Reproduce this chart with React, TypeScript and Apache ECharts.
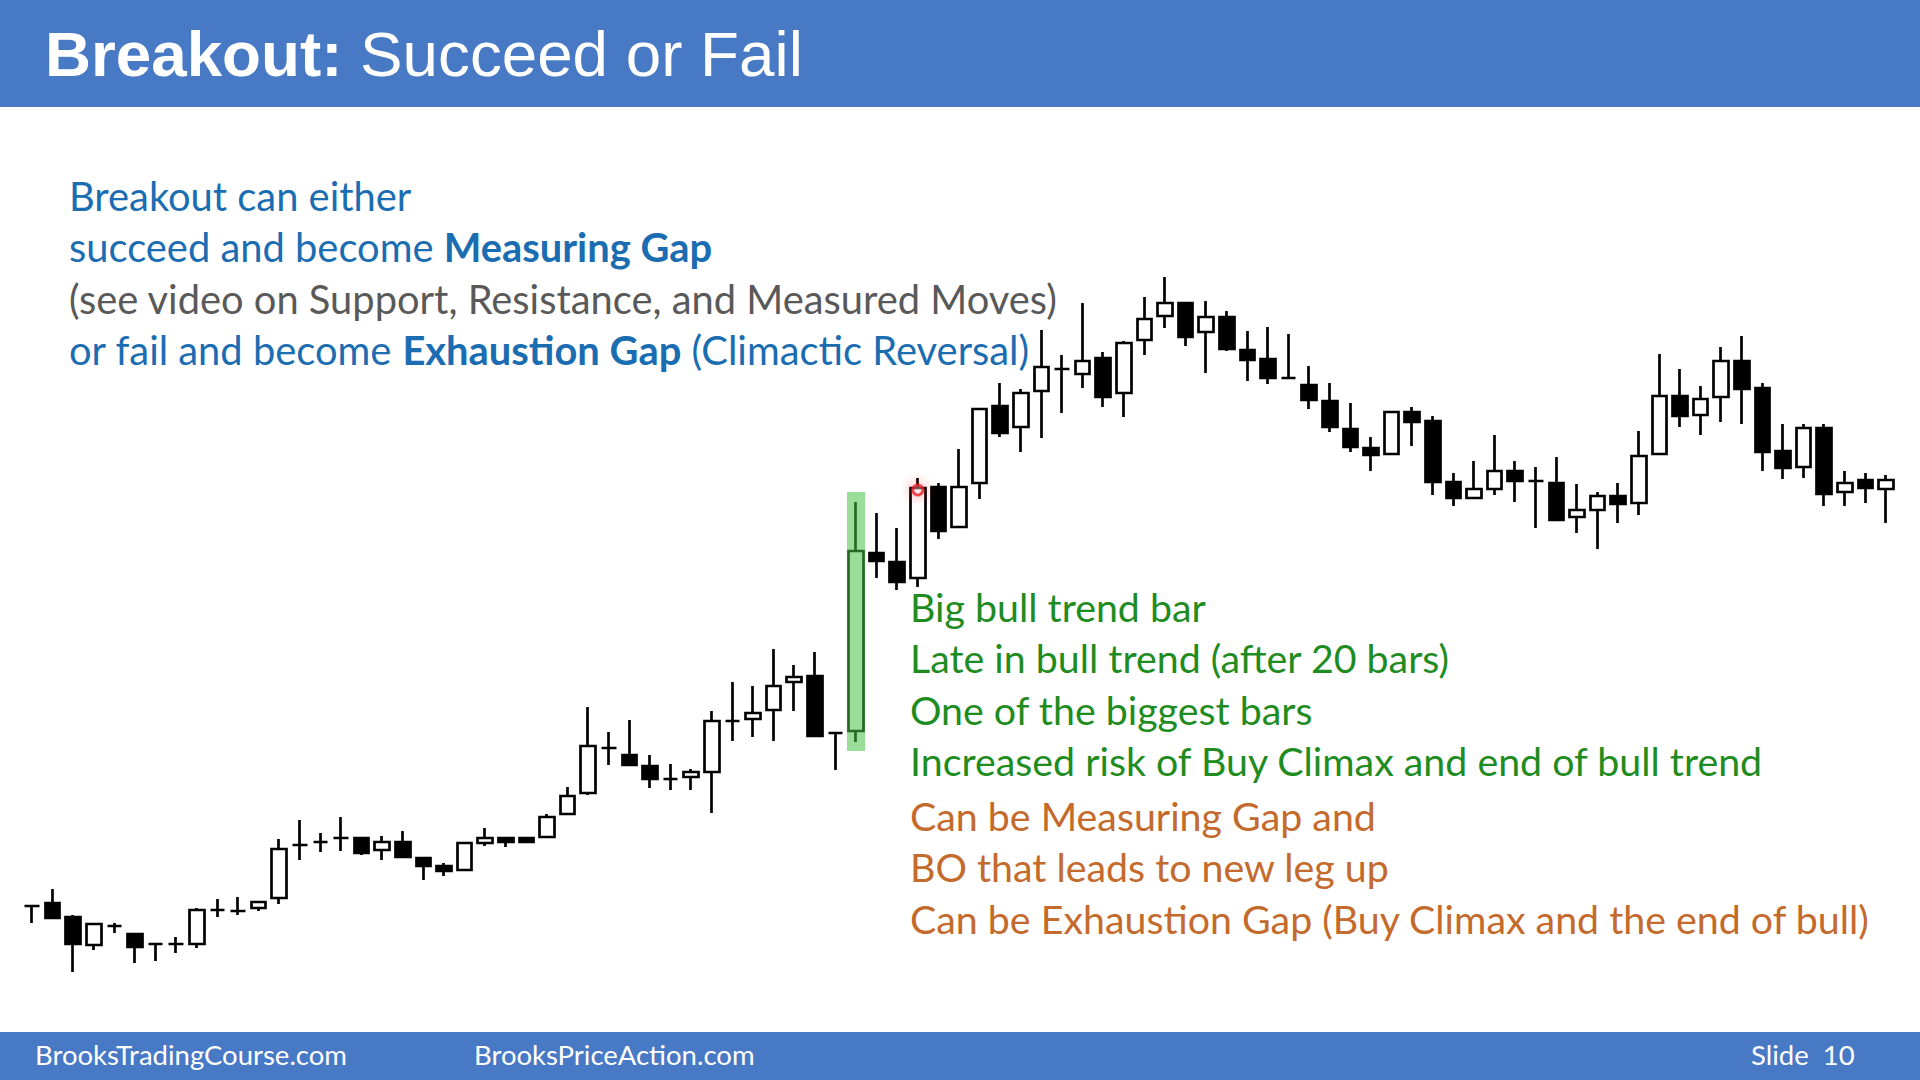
import React, { useEffect, useRef } from "react";
import * as echarts from "echarts";

// ---- DATA (price units, bar by bar) ----
const barNumbers: string[] = Array.from({ length: 91 }, (_, i) => String(i + 1));

const opens = [94,97,83,55,74,66,56,56,56,90, 89,92,102,155,158,162,162,150,158,142, 134,130,157,162,162,163,186,207,252,245, 234,221,223,228,279,281,290,318,324,267, 269,447,438,422,513,473,517,594,573,609, 631,626,642,607,660,684,697,668,683,650, 641,622,615,599,571,552,546,588,579,518, 502,511,529,519,517,483,490,504,497,546, 604,585,603,639,612,549,533,572,508,520, 511];
const closes = [94,82,56,76,74,53,56,56,90,90, 89,98,151,155,158,162,147,158,143,134, 129,157,162,158,158,183,204,254,252,235, 221,221,228,279,279,287,314,323,264,267, 449,439,418,512,469,513,591,567,607,633, 631,639,603,657,681,697,663,683,651,640, 622,622,600,573,553,545,588,578,518,502, 511,529,519,519,480,490,504,496,544,604, 584,601,639,611,548,532,572,506,517,512, 520];
const lows = [77,82,28,50,67,37,39,47,52,83, 85,89,96,140,148,149,145,140,143,120, 124,130,154,153,157,163,186,205,235,235, 212,210,210,187,259,263,259,289,263,230, 258,422,410,413,461,473,501,563,548,562, 587,612,593,583,645,672,654,627,649,619, 616,622,591,568,548,529,546,554,505,494, 501,505,498,472,480,467,451,477,485,546, 573,565,578,576,529,521,522,494,494,497, 477];
const highs = [94,111,85,77,77,66,56,63,92,101, 103,98,161,180,167,183,163,164,169,142, 137,157,172,162,162,186,213,293,268,280, 245,236,231,289,318,314,351,335,348,267, 498,487,472,522,517,551,591,617,611,670, 645,697,648,659,703,723,697,699,689,669, 673,666,634,617,597,563,588,593,584,527, 539,565,539,533,543,516,508,517,569,646, 631,614,653,664,617,576,576,576,529,527, 525];

// highlighted breakout bar (index in barNumbers) and its highlight range
const highlightBarIndex = 40;
const highlightLow = 249;
const highlightHigh = 508;

// cursor mark
const cursorBarIndex = 43;
const cursorValue = 510;

// ---- TEXT ----
const titleBold = "Breakout:";
const titleRegular = " Succeed or Fail";
const footerLeft = "BrooksTradingCourse.com";
const footerMid = "BrooksPriceAction.com";
const footerRight = "Slide  10";

const BLUE = "#1b6db2";
const GRAY = "#595959";
const GREEN = "#1f8c1f";
const ORANGE = "#c46a2c";
const HEADER = "#4779c5";

type Seg = { t: string; b?: boolean; c: string };
const leftLines: Seg[][] = [
  [{ t: "Breakout can either", c: BLUE }],
  [{ t: "succeed and become ", c: BLUE }, { t: "Measuring Gap", b: true, c: BLUE }],
  [{ t: "(see video on Support, Resistance, and Measured Moves)", c: GRAY }],
  [
    { t: "or fail and become ", c: BLUE },
    { t: "Exhaustion Gap", b: true, c: BLUE },
    { t: " (Climactic Reversal)", c: BLUE },
  ],
];
const rightLines: Seg[][] = [
  [{ t: "Big bull trend bar", c: GREEN }],
  [{ t: "Late in bull trend (after 20 bars)", c: GREEN }],
  [{ t: "One of the biggest bars", c: GREEN }],
  [{ t: "Increased risk of Buy Climax and end of bull trend", c: GREEN }],
  [{ t: "Can be Measuring Gap and", c: ORANGE }],
  [{ t: "BO that leads to new leg up", c: ORANGE }],
  [{ t: "Can be Exhaustion Gap (Buy Climax and the end of bull)", c: ORANGE }],
];

const BODY_FONT = "Lato";
const TITLE_FONT = "Liberation Sans";

function measureSegs(segs: Seg[], family: string): number {
  const c = document.createElement("canvas").getContext("2d");
  if (!c) return 1;
  let w = 0;
  for (const s of segs) {
    c.font = `${s.b ? "bold" : "normal"} 100px "${family}"`;
    w += c.measureText(s.t).width;
  }
  return w;
}
function fitSize(segs: Seg[], family: string, target: number): number {
  return (100 * target) / measureSegs(segs, family);
}

function richText(segs: Seg[], x: number, y: number, size: number, family: string) {
  const rich: Record<string, any> = {};
  let text = "";
  segs.forEach((s, i) => {
    const k = "s" + i;
    rich[k] = {
      fill: s.c,
      fontSize: size,
      fontFamily: family,
      fontWeight: s.b ? "bold" : "normal",
    };
    text += `{${k}|${s.t}}`;
  });
  return {
    type: "text",
    x,
    y,
    z: 10,
    style: {
      text,
      rich,
      fontSize: size,
      fontFamily: family,
      align: "left",
      verticalAlign: "middle",
    },
  };
}

export default function App() {
  const ref = useRef<HTMLDivElement>(null);

  useEffect(() => {
    if (!ref.current) return;
    const chart = echarts.init(ref.current, undefined, { renderer: "svg" });

    const candleData = opens.map((o, i) => [o, closes[i], lows[i], highs[i]]);

    const leftSize = fitSize(leftLines[2], BODY_FONT, 989);
    const rightSize = fitSize(rightLines[3], BODY_FONT, 855);
    const footSize = fitSize([{ t: footerLeft, c: "#fff" }], BODY_FONT, 312);
    const titleSize = fitSize(
      [
        { t: titleBold, b: true, c: "#fff" },
        { t: titleRegular, c: "#fff" },
      ],
      TITLE_FONT,
      758
    );

    const leftY = [195, 246, 298, 349];
    const rightY = [606, 657, 709, 760, 815, 866, 918];

    const graphic: any[] = [
      { type: "rect", z: 1, shape: { x: 0, y: 0, width: 1920, height: 107 }, style: { fill: HEADER } },
      { type: "rect", z: 1, shape: { x: 0, y: 1032, width: 1920, height: 48 }, style: { fill: HEADER } },
      richText(
        [
          { t: titleBold, b: true, c: "#ffffff" },
          { t: titleRegular, c: "#ffffff" },
        ],
        45,
        54,
        titleSize,
        TITLE_FONT
      ),
      richText([{ t: footerLeft, c: "#ffffff" }], 35, 1054, footSize, BODY_FONT),
      richText([{ t: footerMid, c: "#ffffff" }], 474, 1054, footSize, BODY_FONT),
      richText([{ t: footerRight, c: "#ffffff" }], 1751, 1054, footSize, BODY_FONT),
    ];
    leftLines.forEach((segs, i) => graphic.push(richText(segs, 69, leftY[i], leftSize, BODY_FONT)));
    rightLines.forEach((segs, i) => graphic.push(richText(segs, 910, rightY[i], rightSize, BODY_FONT)));

    const option: any = {
      animation: false,
      backgroundColor: "#ffffff",
      grid: { left: 21.7, width: 1874.6, top: 200, height: 800, outerBoundsMode: "none" },
      xAxis: { type: "category", data: barNumbers, show: false, boundaryGap: true },
      yAxis: { type: "value", min: 0, max: 800, show: false },
      series: [
        {
          type: "candlestick",
          data: candleData,
          barWidth: 15,
          z: 2,
          itemStyle: {
            color: "#ffffff",
            color0: "#000000",
            borderColor: "#000000",
            borderColor0: "#000000",
            borderColorDoji: "#000000",
            borderWidth: 2.7,
          },
        },
        {
          type: "custom",
          z: 3,
          data: [[highlightBarIndex, highlightLow, highlightHigh]],
          encode: { x: 0, y: [1, 2] },
          renderItem: (_p: any, api: any) => {
            const top = api.coord([api.value(0), api.value(2)]);
            const bottom = api.coord([api.value(0), api.value(1)]);
            const w = api.size([1, 0])[0] * 0.88;
            return {
              type: "rect",
              shape: { x: top[0] - w / 2, y: top[1], width: w, height: bottom[1] - top[1] },
              style: { fill: "rgba(70,193,70,0.55)" },
            };
          },
        },
        {
          type: "scatter",
          z: 4,
          data: [[cursorBarIndex, cursorValue]],
          symbol: "circle",
          symbolSize: 10,
          itemStyle: {
            color: "rgba(255,255,255,0.3)",
            borderColor: "#ee1c24",
            borderWidth: 2.8,
            shadowBlur: 12,
            shadowColor: "rgba(255,40,40,0.9)",
          },
        },
      ],
      graphic,
    };
    chart.setOption(option);
    return () => chart.dispose();
  }, []);

  return (
    <div
      ref={ref}
      style={{ position: "fixed", left: 0, top: 0, width: 1920, height: 1080, background: "#fff" }}
    />
  );
}
